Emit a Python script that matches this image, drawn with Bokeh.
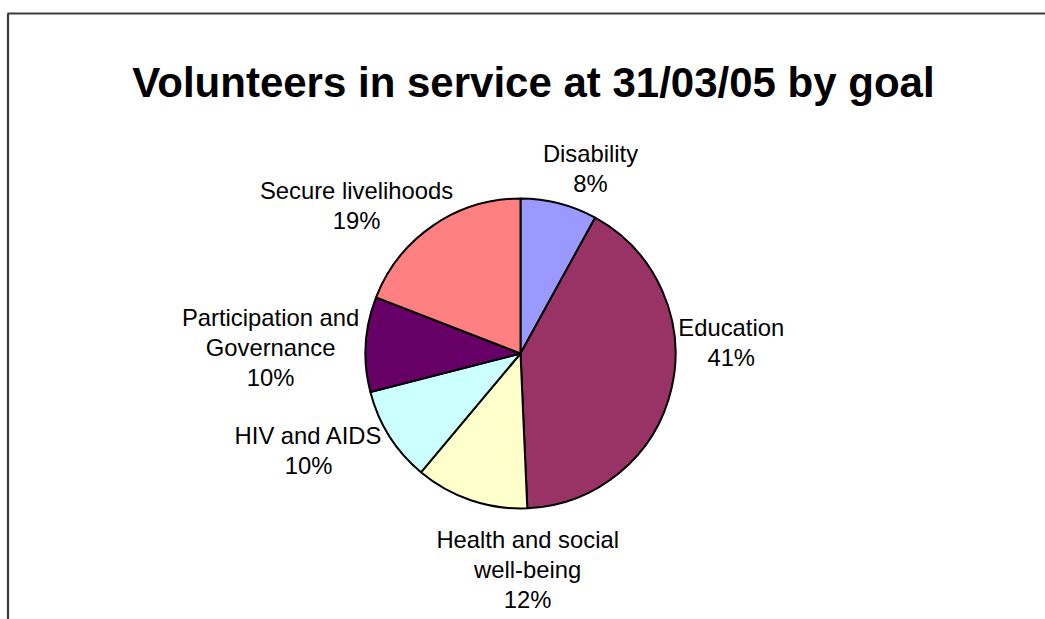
import math
from bokeh.plotting import figure
from bokeh.models import Range1d, ColumnDataSource
from bokeh.core.properties import value
from bokeh.embed import file_html
from bokeh.resources import INLINE

# ---- data ----
categories = ["Disability", "Education", "Health and social\nwell-being",
              "HIV and AIDS", "Participation and\nGovernance", "Secure livelihoods"]
shares = [8.0, 41.3, 11.8, 9.9, 9.9, 19.1]
colors = ["#9999FF", "#993366", "#FFFFCC", "#CCFFFF", "#660066", "#FF8080"]
title_text = "Volunteers in service at 31/03/05 by goal"

# ---- layout (pixels, y measured from top) ----
W, H = 1045, 619
CX, CY, R = 520, 353, 155
# label placement: angle clockwise from 12 o'clock (deg) and distance from centre
label_angle = [20.7, 87.0, 178.1, 245.4, 271.4, 312.1]
label_dist = [198, 211, 216, 233, 250, 221]
LINE_H = 30
FONT = "Liberation Sans"

p = figure(width=W, height=H, x_range=Range1d(0, W), y_range=Range1d(0, H),
           output_backend="svg", toolbar_location=None, min_border=0)
p.axis.visible = False
p.grid.visible = False
p.outline_line_color = None
p.background_fill_color = "white"
p.border_fill_color = "white"

# frame lines (decoration)
p.segment(x0=[7, 7.5], y0=[H - 13, H - 13], x1=[W, 7.5], y1=[H - 13, 0],
          line_color="#3a3a3a", line_width=2.2)

# pie
total = sum(shares)
starts, ends = [], []
cum = 0.0
for v in shares:
    a0 = math.pi / 2 - 2 * math.pi * (cum + v) / total
    a1 = math.pi / 2 - 2 * math.pi * cum / total
    starts.append(a0)
    ends.append(a1)
    cum += v
src = ColumnDataSource(dict(start=starts, end=ends, color=colors))
p.wedge(x=CX, y=H - CY, radius=R, radius_units="screen",
        start_angle="start", end_angle="end", fill_color="color",
        line_color="black", line_width=2, source=src)

# labels
xs, ys, ts = [], [], []
for name, v, ang, d in zip(categories, shares, label_angle, label_dist):
    lines = name.split("\n") + [f"{round(v / total * 100)}%"]
    lx = CX + d * math.sin(math.radians(ang))
    ly = CY - d * math.cos(math.radians(ang))
    n = len(lines)
    for k, t in enumerate(lines):
        xs.append(lx)
        ys.append(H - (ly + (k - (n - 1) / 2) * LINE_H))
        ts.append(t)
p.text(x=xs, y=ys, text=ts, text_font=value(FONT), text_font_size="23.8px",
       text_align="center", text_baseline="middle", text_color="black")

# title
p.text(x=[533], y=[H - 82], text=[title_text], text_font=value(FONT),
       text_font_size="42px", text_font_style="bold", text_align="center",
       text_baseline="middle", text_color="black")

open("out.html", "w").write(file_html(p, INLINE))
